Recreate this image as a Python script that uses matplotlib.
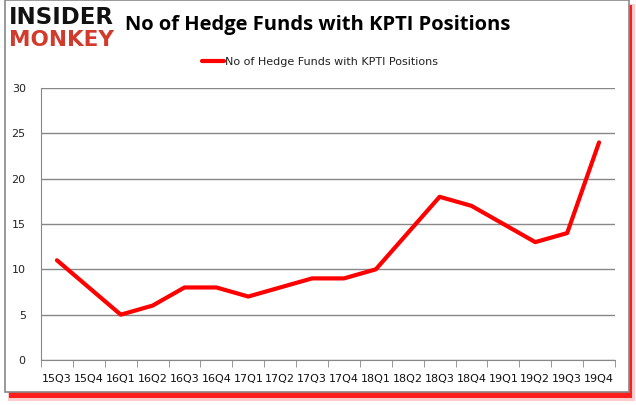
import matplotlib
matplotlib.use("Agg")
import matplotlib.pyplot as plt
from matplotlib.patches import Rectangle

quarters = ["15Q3", "15Q4", "16Q1", "16Q2", "16Q3", "16Q4", "17Q1", "17Q2", "17Q3",
            "17Q4", "18Q1", "18Q2", "18Q3", "18Q4", "19Q1", "19Q2", "19Q3", "19Q4"]
funds = [11, 8, 5, 6, 8, 8, 7, 8, 9, 9, 10, 14, 18, 17, 15, 13, 14, 24]
yticks = [0, 5, 10, 15, 20, 25, 30]
series_name = "No of Hedge Funds with KPTI Positions"
title = "No of Hedge Funds with KPTI Positions"

W, H = 636, 405
fig = plt.figure(figsize=(W / 100, H / 100), dpi=100)
fig.patch.set_facecolor("white")

# red shadow and border frame
fig.patches.append(Rectangle((8 / W, 1 - 401 / H), 627 / W, 397 / H, transform=fig.transFigure,
                             facecolor="#ff9999", edgecolor="none", alpha=0.5, zorder=0))
fig.patches.append(Rectangle((9 / W, 1 - 398 / H), 623 / W, 393 / H, transform=fig.transFigure,
                             facecolor="#ff0000", edgecolor="none", alpha=0.85, zorder=0.2))
fig.patches.append(Rectangle((5 / W, 1 - 392 / H), 624 / W, 392 / H, transform=fig.transFigure,
                             facecolor="white", edgecolor="#888888", linewidth=1.2, zorder=0.5))

ax = fig.add_axes([41 / W, 1 - 360 / H, (615 - 41) / W, (360 - 88) / H])
ax.set_zorder(2)
ax.set_facecolor("none")
x = list(range(len(quarters)))
ax.plot(x, funds, color="#ff0000", linewidth=3, solid_capstyle="round",
        solid_joinstyle="round", label=series_name, zorder=3)
ax.set_xlim(-0.5, len(quarters) - 0.5)
ax.set_ylim(0, 30)
ax.set_yticks(yticks)
ax.set_yticklabels([str(v) for v in yticks], fontsize=8, color="#222222", family="DejaVu Sans")
ax.set_xticks(x)
ax.set_xticklabels(quarters, fontsize=8, color="#111111", family="DejaVu Sans")
ax.set_xticks([i - 0.5 for i in range(len(quarters) + 1)], minor=True)
ax.tick_params(axis="x", which="major", length=0, pad=10)
ax.tick_params(axis="x", which="minor", length=5, color="#888888", direction="out")
ax.tick_params(axis="y", length=0, pad=11)
ax.yaxis.grid(True, color="#888888", linewidth=1)
ax.set_axisbelow(True)
for s in ["top", "right"]:
    ax.spines[s].set_visible(False)
ax.spines["bottom"].set_color("#888888")
ax.spines["left"].set_color("#888888")

# title and logo
fig.text(318 / W, 1 - 25 / H, title, fontsize=14.5, fontweight="bold", family="Open Sans",
         ha="center", va="center", color="black")
fig.text(9 / W, 1 - 18 / H, "INSIDER", fontsize=16.5, fontweight="heavy", family="DejaVu Sans",
         ha="left", va="center", color="#111111")
fig.text(9 / W, 1 - 40 / H, "MONKEY", fontsize=15.5, fontweight="heavy", family="DejaVu Sans",
         ha="left", va="center", color="#d23a2b")

leg = fig.legend(loc="center", bbox_to_anchor=(320 / W, 1 - 62 / H), frameon=False,
                 fontsize=8, handlelength=2.0, handletextpad=0.1)
for t in leg.get_texts():
    t.set_color("#222222")

fig.savefig("out.png", dpi=100)
